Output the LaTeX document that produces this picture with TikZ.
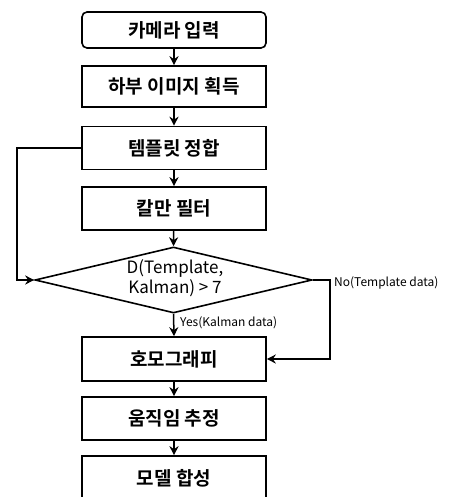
\documentclass[tikz,border=0pt]{standalone}
\usepackage{fontspec}
\setmainfont{Noto Sans CJK KR}[BoldFont={Noto Sans CJK KR Bold}]
\usetikzlibrary{shapes.geometric,arrows.meta}
\tikzset{
  box/.style={draw, line width=1.6pt, minimum width=184pt, inner sep=0pt, font=\fontsize{19}{21}\selectfont\bfseries},
  flow/.style={line width=1.5pt, -{Stealth[length=9pt,width=9pt]}},
  lbl/.style={font=\fontsize{12}{14}\selectfont, inner sep=0pt, anchor=west}
}
\begin{document}
\begin{tikzpicture}[x=1pt,y=-1pt]
\useasboundingbox (0,0) rectangle (459,497);
\node[box, rounded corners=5pt, minimum height=36pt] (b1) at (174,30) {카메라 입력};
\node[box, minimum height=41pt] (b2) at (174,86.5) {하부 이미지 획득};
\node[box, minimum height=43pt] (b3) at (174,148) {템플릿 정합};
\node[box, minimum height=43pt] (b4) at (174,208.5) {칼만 필터};
\node[draw, line width=1.6pt, diamond, aspect=4.2, minimum width=277pt, minimum height=66pt, inner sep=0pt] (dec) at (173.5,280) {};
\node[align=center, font=\fontsize{17}{20}\selectfont, inner sep=0pt] (dtxt) at (175,278) {D(Template,\\Kalman) > 7};
\node[box, minimum height=44pt] (b5) at (174,359) {호모그래피};
\node[box, minimum height=43pt] (b6) at (174,418.5) {움직임 추정};
\node[box, minimum height=44pt] (b7) at (174,478) {모델 합성};
\coordinate (lc) at (17,148);
\coordinate (rc) at (330,280);
\draw[flow] (b1) -- (b2);
\draw[flow] (b2) -- (b3);
\draw[flow] (b3) -- (b4);
\draw[flow] (b4) -- (dec.north);
\draw[flow] (b3.west) -- (lc) |- (dec.west);
\draw[flow] (dec.east) -- (rc) |- (b5.east);
\draw[flow] (dec.south) -- (b5.north);
\draw[flow] (b5) -- (b6);
\draw[flow] (b6) -- (b7);
\node[lbl] (no) at (334,283) {No(Template data)};
\node[lbl] (yes) at (180,323) {Yes(Kalman data)};
\end{tikzpicture}
\end{document}
